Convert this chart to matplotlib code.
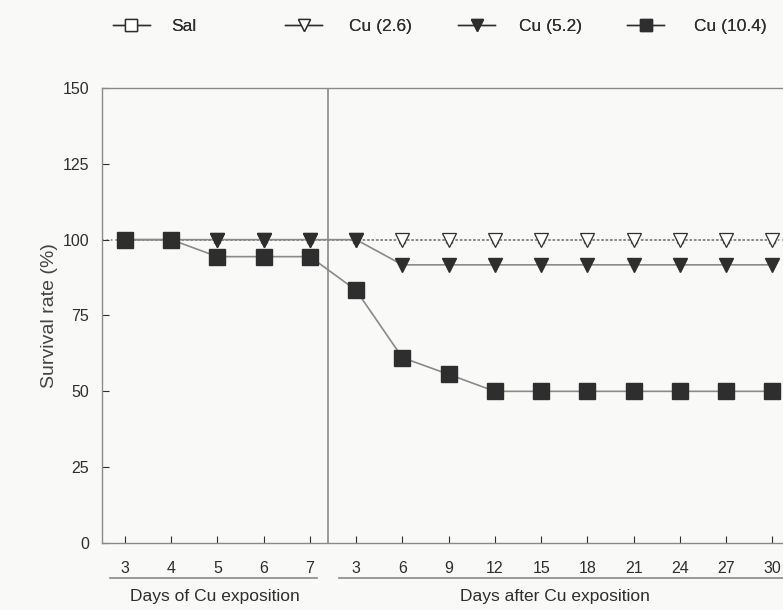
import matplotlib
matplotlib.use("Agg")
import matplotlib.pyplot as plt
from matplotlib.lines import Line2D
import matplotlib.transforms as mtransforms

plt.rcParams['font.family'] = ['Liberation Sans', 'DejaVu Sans']

# data
day_labels = ["3", "4", "5", "6", "7", "3", "6", "9", "12", "15", "18", "21", "24", "27", "30"]
sal = [100] * 15
cu_26 = [100] * 15
cu_52 = [100, 100, 100, 100, 100, 100, 91.7, 91.7, 91.7, 91.7, 91.7, 91.7, 91.7, 91.7, 91.7]
cu_104 = [100, 100, 94.4, 94.4, 94.4, 83.3, 61.1, 55.6, 50, 50, 50, 50, 50, 50, 50]
y_ticks = [0, 25, 50, 75, 100, 125, 150]
series_names = ["Sal", "Cu (2.6)", "Cu (5.2)", "Cu (10.4)"]

x = list(range(len(day_labels)))
bg = "#f9f9f7"
dark = "#2e2e2e"
grey = "#8a8a8a"

fig = plt.figure(figsize=(7.83, 6.10), dpi=100, facecolor=bg)
ax = fig.add_axes([0.130, 0.1098, 0.886, 0.746], facecolor=bg)

ax.axhline(100, color=grey, linestyle=':', linewidth=1.2, zorder=1)
ax.plot(x, sal, marker='s', markersize=5, markerfacecolor='white', markeredgecolor=grey,
        color=grey, linestyle=':', linewidth=1.2, zorder=2)
ax.plot(x, cu_26, marker='v', markersize=10, markerfacecolor='white', markeredgecolor=dark,
        markeredgewidth=0.9, color=grey, linestyle=':', linewidth=1.2, zorder=3)
ax.plot(x, cu_52, marker='v', markersize=10, markerfacecolor=dark, markeredgecolor=dark,
        color=grey, linestyle='-', linewidth=1.2, zorder=4)
ax.plot(x, cu_104, marker='s', markersize=12, markerfacecolor=dark, markeredgecolor=dark,
        color=grey, linestyle='-', linewidth=1.2, zorder=5)

# separator between exposure and post-exposure periods
ax.axvline(4.4, color=grey, linewidth=1.2, zorder=0)

ax.set_xlim(-0.5, 14.5)
ax.set_ylim(0, 150)
ax.set_yticks(y_ticks)
ax.set_xticks(x)
ax.set_xticklabels(day_labels)
ax.tick_params(axis='both', direction='in', colors=dark, labelsize=11.5, length=5, width=0.8)
ax.tick_params(axis='x', pad=13)
ax.tick_params(axis='y', pad=9)
for s in ax.spines.values():
    s.set_color(grey)
    s.set_linewidth(1.0)
ax.set_ylabel("Survival rate (%)", fontsize=14, color="#444444", labelpad=3)

# group underlines and labels
trans = mtransforms.blended_transform_factory(ax.transData, ax.transAxes)
ax.plot([-0.32, 4.15], [-0.077, -0.077], color=grey, linewidth=1.2, transform=trans, clip_on=False)
ax.plot([4.62, 14.6], [-0.077, -0.077], color=grey, linewidth=1.2, transform=trans, clip_on=False)
ax.text(1.95, -0.118, "Days of Cu exposition", transform=trans, ha='center', va='center',
        fontsize=12.5, color=dark)
ax.text(9.3, -0.118, "Days after Cu exposition", transform=trans, ha='center', va='center',
        fontsize=12.5, color=dark)

# legend, one entry at a time to match the uneven spacing
handles = [
    Line2D([], [], marker='s', markersize=8.5, markerfacecolor='white', markeredgecolor=dark, color=dark, linewidth=1),
    Line2D([], [], marker='v', markersize=9, markerfacecolor='white', markeredgecolor=dark, color=dark, linewidth=1),
    Line2D([], [], marker='v', markersize=9, markerfacecolor=dark, markeredgecolor=dark, color=dark, linewidth=1),
    Line2D([], [], marker='s', markersize=8.5, markerfacecolor=dark, markeredgecolor=dark, color=dark, linewidth=1),
]
legend_x = [0.1443, 0.364, 0.585, 0.801]
legend_pad = [1.2, 1.55, 1.38, 1.72]
for h, name, lx, tp in zip(handles, series_names, legend_x, legend_pad):
    leg = fig.legend([h], [name], loc='center left', bbox_to_anchor=(lx, 0.957), frameon=False,
                     fontsize=12.5, handlelength=2.13, handletextpad=tp, labelcolor=dark,
                     borderaxespad=0, borderpad=0)
    fig.add_artist(leg)

fig.savefig("out.png", dpi=100, facecolor=bg)
